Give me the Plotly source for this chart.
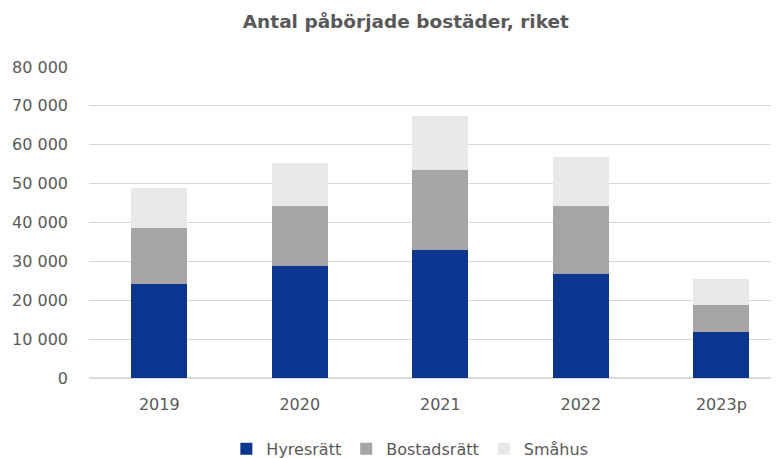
import plotly.graph_objects as go

years = ["2019", "2020", "2021", "2022", "2023p"]
hyresratt = [24100, 28900, 32900, 26700, 11900]
bostadsratt = [14400, 15300, 20500, 17500, 7000]
smahus = [10500, 11000, 14000, 12700, 6500]

series = [
    ("Hyresrätt", hyresratt, "#0c358f"),
    ("Bostadsrätt", bostadsratt, "#a5a5a5"),
    ("Småhus", smahus, "#e8e8e8"),
]

fig = go.Figure()
for name, vals, color in series:
    fig.add_trace(go.Bar(x=years, y=vals, name=name, marker=dict(color=color, line=dict(width=0)),
                         width=0.4))

font_family = "DejaVu Sans"
fig.update_layout(
    width=771, height=450,
    barmode="stack",
    separators=", ",
    paper_bgcolor="white", plot_bgcolor="white",
    margin=dict(l=81, r=0, t=59, b=80, autoexpand=False),
    title=dict(text="<b>Antal påbörjade bostäder, riket</b>", x=0.516, xanchor="center",
               y=0.969, yanchor="middle", font=dict(family=font_family, size=18.5, color="#595959")),
    font=dict(family=font_family, size=16, color="#595959"),
    showlegend=True,
    legend=dict(orientation="h", x=0.465, xanchor="center", y=-0.228, yanchor="middle",
                font=dict(family=font_family, size=16, color="#595959"), traceorder="normal",
                itemwidth=30),
    hovermode=False,
)
fig.update_xaxes(type="category", range=[-0.5, 4.41], showgrid=False, showline=False,
                 ticks="", automargin=False, ticklabelstandoff=15,
                 tickfont=dict(size=16, color="#595959"))
fig.update_yaxes(range=[0, 80000], dtick=10000, tickformat=",d", showgrid=True,
                 gridcolor="#d9d9d9", gridwidth=1, zeroline=True, zerolinecolor="#d9d9d9",
                 showline=False, ticks="", ticklabelstandoff=20, automargin=False,
                 tickfont=dict(size=16, color="#595959"))

fig.write_html("out.html")
